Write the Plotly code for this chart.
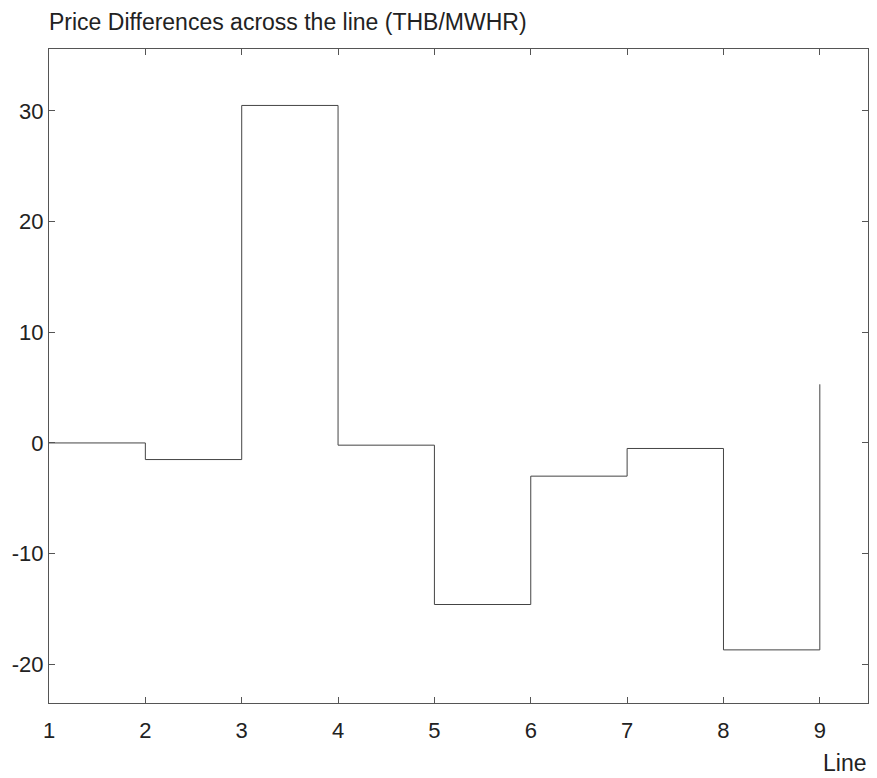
import plotly.graph_objects as go

lines = [1, 2, 3, 4, 5, 6, 7, 8, 9]
price_diff = [0.0, -1.5, 30.5, -0.2, -14.6, -3.0, -0.5, -18.7, 5.3]
x_ticks = [1, 2, 3, 4, 5, 6, 7, 8, 9]
y_ticks = [-20, -10, 0, 10, 20, 30]
y_tick_labels = ["-20", "-10", "0", "10", "20", "30"]

fig = go.Figure()
fig.add_trace(go.Scatter(
    x=lines, y=price_diff, mode="lines",
    line=dict(shape="hv", color="#444444", width=1),
    showlegend=False, hoverinfo="skip",
))

axis_common = dict(
    showgrid=False, zeroline=False, showline=True, linecolor="#555555",
    linewidth=1, mirror="ticks", ticks="inside", ticklen=6,
    tickcolor="#555555", automargin=False,
    tickfont=dict(family="Liberation Sans, Arial", size=22, color="#222222"),
)
fig.update_xaxes(range=[1, 9.5], tickvals=x_ticks, ticklabelstandoff=8,
                 **axis_common)
fig.update_yaxes(range=[-23.5, 35.6], tickvals=y_ticks,
                 ticktext=y_tick_labels, **axis_common)

fig.update_layout(
    width=877, height=778,
    margin=dict(l=49, r=9, t=49, b=75),
    paper_bgcolor="white", plot_bgcolor="white",
    font=dict(family="Liberation Sans, Arial", color="#222222"),
    annotations=[
        dict(text="Price Differences across the line (THB/MWHR)", x=0, y=1,
             xref="paper", yref="paper", xanchor="left", yanchor="bottom",
             yshift=12, xshift=-2, showarrow=False, font=dict(size=23)),
        dict(text="Line", x=1, y=0, xref="paper", yref="paper",
             xanchor="right", yanchor="top", yshift=-45, showarrow=False,
             font=dict(size=23)),
    ],
)

fig.write_html("out.html")
